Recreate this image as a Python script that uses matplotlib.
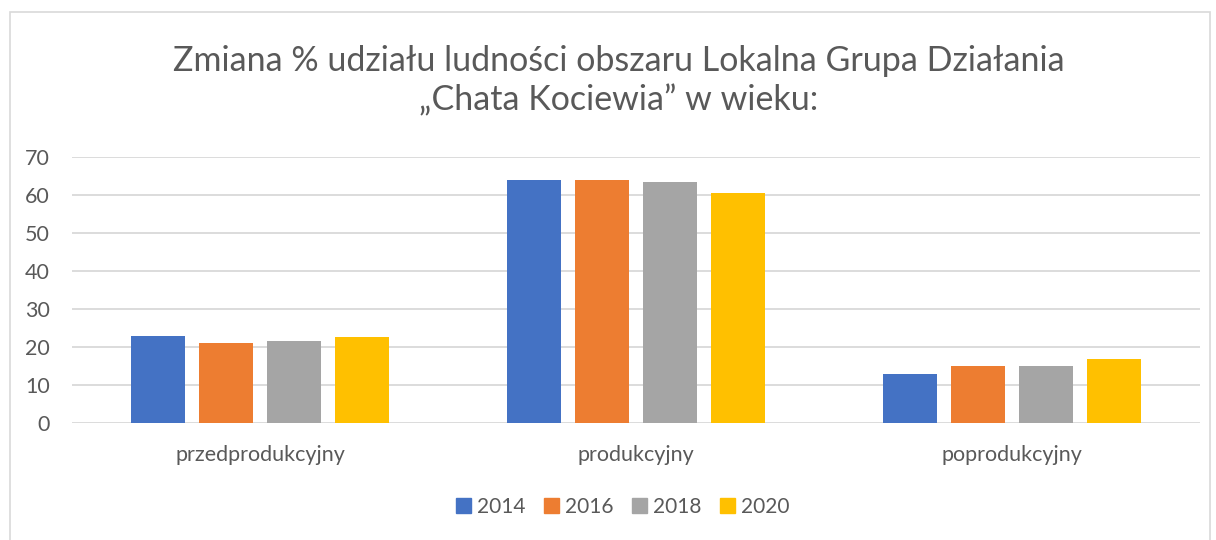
import matplotlib.pyplot as plt
from matplotlib.patches import Rectangle, Patch
import numpy as np

categories = ["przedprodukcyjny", "produkcyjny", "poprodukcyjny"]
years = ["2014", "2016", "2018", "2020"]
values_2014 = [23.0, 64.0, 12.8]
values_2016 = [21.0, 64.0, 14.9]
values_2018 = [21.6, 63.3, 15.1]
values_2020 = [22.7, 60.4, 16.9]
colors = ["#4472C4", "#ED7D31", "#A5A5A5", "#FFC000"]

series = [values_2014, values_2016, values_2018, values_2020]

plt.rcParams['font.family'] = ['Lato', 'DejaVu Sans']
text_color = "#595959"

fig = plt.figure(figsize=(12.16, 5.4), dpi=100)

# light chart border like in Excel
fig.patches.append(Rectangle((10 / 1216, -0.05), 1200 / 1216, 1.05 - 12 / 540,
                             transform=fig.transFigure, fill=False,
                             edgecolor="#D9D9D9", linewidth=1.2))

ax = fig.add_axes([72 / 1216, 1 - 423 / 540, 1128 / 1216, 266 / 540])

x = np.arange(len(categories))
pitch = 0.181
width = 0.144
for i, vals in enumerate(series):
    ax.bar(x + (i - 1.5) * pitch, vals, width, color=colors[i], label=years[i], zorder=3)

ax.set_xlim(-0.5, 2.5)
ax.set_ylim(0, 70)
ax.set_yticks(range(0, 71, 10))
ax.set_xticks(x)
ax.set_xticklabels(categories)
ax.grid(axis="y", color="#D9D9D9", linewidth=1.3, zorder=0)
for s in ax.spines.values():
    s.set_visible(False)
ax.tick_params(axis="both", length=0, labelsize=15.5, labelcolor=text_color)
ax.tick_params(axis="y", pad=16)
ax.tick_params(axis="x", pad=16)

fig.text(619 / 1216, 1 - 81 / 540,
         "Zmiana % udziału ludności obszaru Lokalna Grupa Działania\n„Chata Kociewia” w wieku:",
         ha="center", va="center", fontsize=24.5, color=text_color, linespacing=1.27)

handles = [Patch(color=c, label=y) for c, y in zip(colors, years)]
leg = fig.legend(handles=handles, loc="center", bbox_to_anchor=(623 / 1216, 1 - 507 / 540),
                 ncol=4, frameon=False, fontsize=15, handlelength=0.7, handleheight=0.7,
                 handletextpad=0.3, columnspacing=0.9)
for t in leg.get_texts():
    t.set_color(text_color)

plt.savefig("out.png", dpi=100)
